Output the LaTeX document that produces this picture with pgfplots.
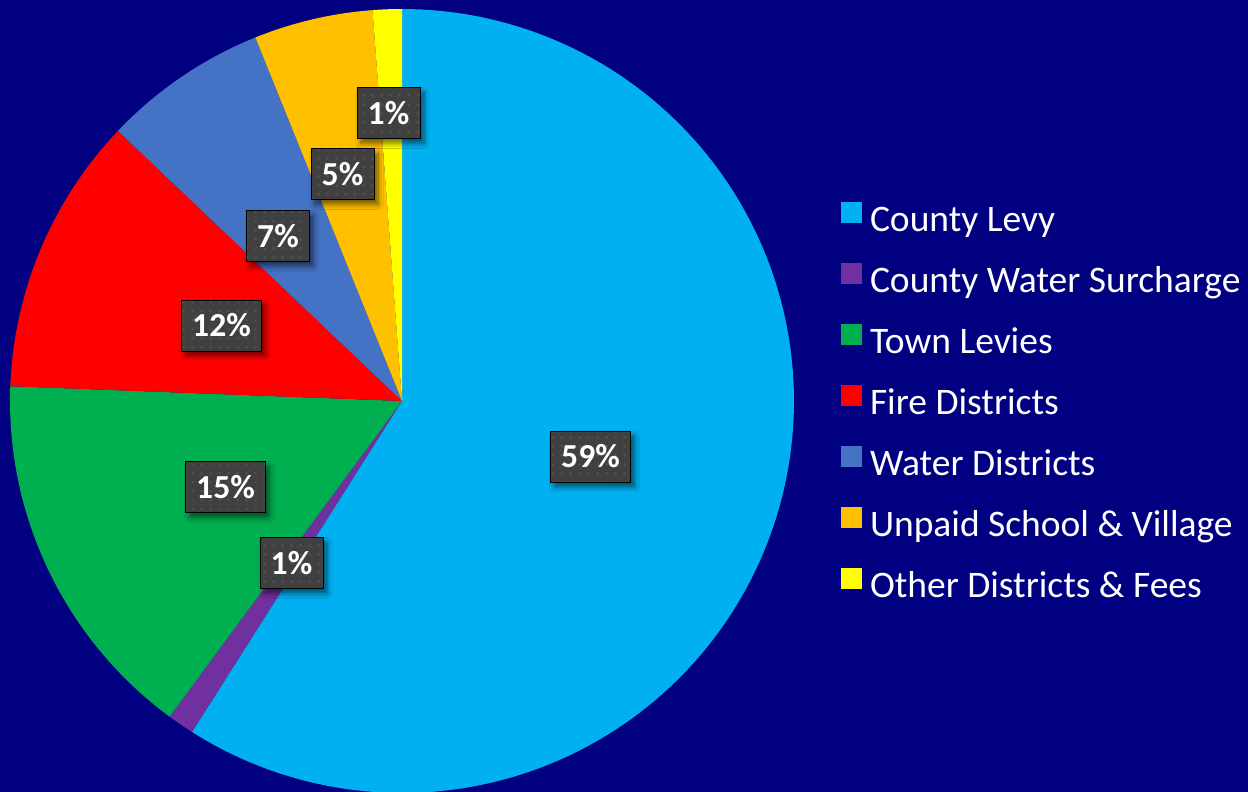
\documentclass[border=0pt]{standalone}
\usepackage{pgfplots}
\pgfplotsset{compat=1.18}
\usepackage{fontspec}
\setmainfont{Carlito}
\usetikzlibrary{shadows,shadows.blur,patterns}
\definecolor{bg}{HTML}{000080}
\definecolor{cA}{HTML}{00B0F0}
\definecolor{cB}{HTML}{7030A0}
\definecolor{cC}{HTML}{00B050}
\definecolor{cD}{HTML}{FF0000}
\definecolor{cE}{HTML}{4472C4}
\definecolor{cF}{HTML}{FFC000}
\definecolor{cG}{HTML}{FFFF00}
\definecolor{lblgray}{HTML}{404040}
\definecolor{dotgray}{HTML}{565656}
\pgfdeclarepatternformonly{sqdots}{\pgfqpoint{0pt}{0pt}}{\pgfqpoint{4.5pt}{4.5pt}}{\pgfqpoint{4.5pt}{4.5pt}}{%
  \pgfpathrectangle{\pgfqpoint{1.5pt}{1.5pt}}{\pgfqpoint{1pt}{1pt}}\pgfusepath{fill}}
% slice values (percent)
\def\vA{59.0}\def\vB{1.1}\def\vC{15.5}\def\vD{11.5}\def\vE{6.8}\def\vF{4.9}\def\vG{1.2}
\pgfmathsetmacro\aA{0}
\pgfmathsetmacro\aB{\aA+3.6*\vA}
\pgfmathsetmacro\aC{\aB+3.6*\vB}
\pgfmathsetmacro\aD{\aC+3.6*\vC}
\pgfmathsetmacro\aE{\aD+3.6*\vD}
\pgfmathsetmacro\aF{\aE+3.6*\vE}
\pgfmathsetmacro\aG{\aF+3.6*\vF}
\pgfmathsetmacro\aH{\aG+3.6*\vG}
\def\cx{402}\def\cy{391}\def\R{392}
\begin{document}
\begin{tikzpicture}
\fill[bg] (0,0) rectangle (624pt,396pt);
\begin{axis}[
  at={(0,0)}, anchor=south west,
  scale only axis, width=624pt, height=396pt,
  xmin=0, xmax=1248, ymin=0, ymax=792,
  hide axis, clip=true,
  legend image code/.code={\fill[#1] (0pt,0pt) rectangle (10.5pt,10.5pt);},
  legend cell align=left,
  legend style={at={(axis cs:841,590)}, anchor=north west, draw=none, fill=none,
    inner sep=0pt, outer sep=0pt, text=white,
    font=\fontsize{18.75}{21}\selectfont, row sep=12.25pt,
    nodes={inner sep=0pt, text height=12pt, text depth=3.5pt},
    /tikz/every odd column/.append style={column sep=4pt}},
]
\addplot[fill=cA, draw=none, domain=\aA:\aB, samples=150] ({\cx+\R*sin(x)},{\cy+\R*cos(x)}) -- (\cx,\cy) -- cycle;
\addplot[fill=cB, draw=none, domain=\aB:\aC, samples=10] ({\cx+\R*sin(x)},{\cy+\R*cos(x)}) -- (\cx,\cy) -- cycle;
\addplot[fill=cC, draw=none, domain=\aC:\aD, samples=60] ({\cx+\R*sin(x)},{\cy+\R*cos(x)}) -- (\cx,\cy) -- cycle;
\addplot[fill=cD, draw=none, domain=\aD:\aE, samples=50] ({\cx+\R*sin(x)},{\cy+\R*cos(x)}) -- (\cx,\cy) -- cycle;
\addplot[fill=cE, draw=none, domain=\aE:\aF, samples=40] ({\cx+\R*sin(x)},{\cy+\R*cos(x)}) -- (\cx,\cy) -- cycle;
\addplot[fill=cF, draw=none, domain=\aF:\aG, samples=30] ({\cx+\R*sin(x)},{\cy+\R*cos(x)}) -- (\cx,\cy) -- cycle;
\addplot[fill=cG, draw=none, domain=\aG:\aH, samples=10] ({\cx+\R*sin(x)},{\cy+\R*cos(x)}) -- (\cx,\cy) -- cycle;
\legend{County Levy, County Water Surcharge, Town Levies, Fire Districts, Water Districts, Unpaid School \& Village, Other Districts \& Fees}
\addplot[forget plot, only marks, mark=none, point meta=explicit symbolic,
  nodes near coords={\pgfplotspointmeta\%},
  every node near coord/.style={anchor=center, fill=lblgray, text=white,
    font=\bfseries\fontsize{16.8}{19}\selectfont, inner xsep=5.4pt, inner ysep=0pt,
    minimum height=25.5pt,
    blur shadow={shadow xshift=2pt, shadow yshift=-2.5pt, shadow blur radius=2.5pt, shadow blur steps=8, shadow opacity=55},
    postaction={pattern=sqdots, pattern color=dotgray}}]
table[meta=lbl] {
x y lbl
590.5 335.5 59
291.5 229 1
225.5 305 15
221.5 466.5 12
278 556 7
342.5 618 5
388.5 679 1
};
\end{axis}
\end{tikzpicture}
\end{document}
